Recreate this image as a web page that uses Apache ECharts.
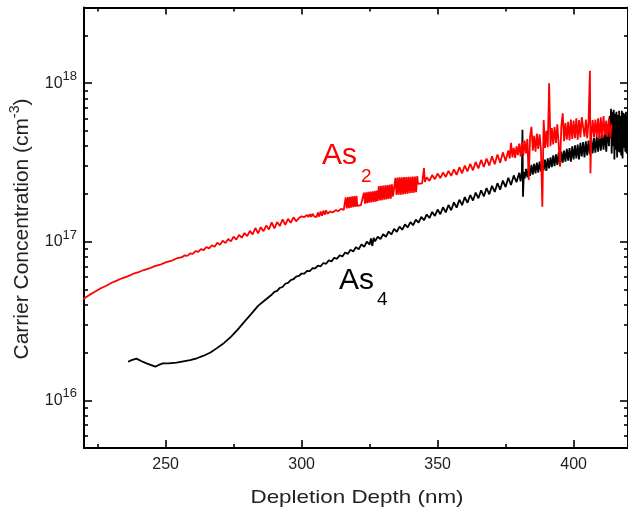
<!DOCTYPE html>
<html><head><meta charset="utf-8">
<script src="https://cdn.jsdelivr.net/npm/echarts@6/dist/echarts.min.js"></script>
<style>html,body{margin:0;padding:0;background:#fff}#c{width:628px;height:513px}</style>
</head><body><div id="c"></div>
<script>
// Concentrations below are in units of 1e16 cm^-3
const UNIT = 1e16;
const xMin = 220, xMax = 420;
const yMin = 5e15, yMax = 3e18;
const xMajorTicks = [250, 300, 350, 400];
const xMinorTicks = [225, 275, 325, 375];
const yMajorTicks = [1e16, 1e17, 1e18];
const yMinorTicks = [6e15, 7e15, 8e15, 9e15, 2e16, 3e16, 4e16, 5e16, 6e16, 7e16, 8e16, 9e16,
  2e17, 3e17, 4e17, 5e17, 6e17, 7e17, 8e17, 9e17, 2e18];

// As2 (red) : [depth nm, concentration / 1e16]
const as2Low = [[218,4.17],[220,4.39],[222,4.62],[224,4.83],[226,5.07],[228,5.26],[230,5.49],[232,5.68],[234,5.88],[236,6.04],[238,6.26],[240,6.42],[242,6.63],[244,6.78],[246,7.01],[248,7.16],[250,7.41],[252,7.56],[254,7.84],[256,7.99]];
const as2Mid = [[257,8.20],[258,8.15],[259,8.45],[260,8.38],[261,8.72],[262,8.62],[263,8.98],[264,8.84],[265,9.26],[266,9.08],[267,9.50],[268,9.30],[269,9.85],[270,9.55],[271,10.15],[272,9.80],[273,10.40],[274,10.05],[275,10.75],[276,10.30],[277,11.05],[278,10.60],[279,11.35],[280,10.85],[281,11.70],[282,11.10],[283,12.20],[284,11.30],[285,12.35],[286,11.65],[287,12.65],[288,11.95],[289,13.25],[290,12.15],[291,13.30],[292,12.55],[293,13.85],[294,12.75],[295,13.95],[296,13.15],[297,14.25],[298,13.45]];
const as2Steps = [[299,14.10],[300,14.45],[301,14.30],[302,14.75],[302.5,14.30],[303,14.95],[303.5,14.35],[304,15.00],[304.5,14.50],[305,14.85],[305.5,14.30],[306,15.30],[306.5,14.40],[307,15.50],[307.5,14.60],[308,15.70],[308.5,14.80],[309,15.80],[309.5,15.00],[310.5,15.50],[311.5,15.30],[312.5,15.80],[313.5,15.60],[314.5,16.10],[315.5,15.90],
[316.2,19.0],[316.6,16.2],[317.0,19.1],[317.4,16.3],[317.8,19.2],[318.2,16.4],[318.6,19.3],[319.0,16.5],[319.4,19.4],[319.8,16.6],[320.2,19.5],[320.5,16.8],[321.0,17.1],[321.8,17.0],[322.5,17.3],
[322.9,20.4],[323.3,17.4],[323.7,20.5],[324.1,17.5],[324.5,20.6],[324.9,17.6],[325.3,20.7],[325.7,17.7],[326.1,20.8],[326.5,17.8],[326.9,20.9],[327.3,17.9],[327.7,21.0],[328.0,18.1],
[328.4,22.4],[328.8,18.2],[329.2,22.5],[329.6,18.3],[330.0,22.6],[330.4,18.4],[330.8,22.7],[331.2,18.5],[331.6,22.8],[332.0,18.6],[332.4,22.9],[332.8,18.7],[333.2,23.0],[333.6,19.3],[334.1,19.6],
[334.5,25.3],[334.9,19.7],[335.3,25.4],[335.7,19.8],[336.1,25.5],[336.5,19.8],[336.9,25.5],[337.3,19.9],[337.7,25.6],[338.1,20.0],[338.5,25.6],[338.9,20.1],[339.3,25.7],[339.7,20.2],[340.1,25.7],[340.5,20.3],[340.9,25.8],[341.3,20.4],[341.7,25.8],[342.1,20.5],[342.5,25.9],[342.8,23.2],[343.5,23.5],[344.3,23.3],[345.0,29.1],[345.3,23.8]];
const as2High = [[346,25.5],[347,24.2],[348,26.3],[349,24.8],[350,26.9],[351,25.2],[352,27.3],[353,25.6],[354,28.0],[355,26.0],[356,28.6],[357,26.4],[358,29.5],[359,27.0],[360,30.2],[361,27.8],[362,31.0],[363,28.2],[364,31.8],[365,29.0],[366,32.8],[367,29.6],[368,33.5],[369,30.2],[370,34.6],[371,30.8],[372,35.5],[373,31.5],[374,36.6],[375,32.3],[376,37.6],
[376.5,33.5],[377,42.0],[377.5,34.0],[378,39.0],[378.5,33.8],[379,40.0],[379.5,35.2],[380,41.5],[380.5,34.5],[381,42.5],[381.5,35.0],[382,43.5],[382.5,36.0],[383,44.5],[383.5,24.5],[384,46.0],[384.5,53.0],[385,37.5],[385.5,46.5],[386,37.0],[386.5,48.0],[387,38.5],[387.5,47.5],[388,38.0],[388.5,16.6],[389,58.5],[389.5,39.0],[390,50.0],[390.5,39.5],[391,100],[391.5,40.0],[392,52.0],[392.5,41.0],[393,53.0],[393.5,42.0],[394,55.0],[394.5,41.5],[395,29.8],[395.5,54.0],[396,64.5],[396.5,43.0],[397,56.0],[397.5,44.0],[398,57.0],[398.5,43.5],[399,59.0],[399.5,44.5],[400,58.0],[400.5,45.0],[401,60.0],[401.5,44.0],[402,58.5],[402.5,45.5],[403,61.0],[403.5,60.5],[404,46.0],[404.5,59.0],[405,45.0],[405.5,58.0],[406,119.7],[406.2,27.0],[406.5,46.5],[407,58.5],[407.5,45.5],[408,59.0],[408.5,46.0],[409,60.0],[409.5,44.5],[410,61.0],[410.5,45.0],[411,62.0],[411.5,47.0],[412,58.0],[412.5,46.0],[413,60.0],[413.5,45.5],[414,55.0]];

// As4 (black)
const as4Low = [[236.2,1.75],[237.5,1.79],[239.3,1.83],[241,1.77],[243,1.71],[245,1.66],[246.2,1.63],[247.5,1.67],[249,1.71],[251,1.71],[254,1.73],[256.5,1.76],[259,1.79],[261.5,1.84],[264,1.91],[266.5,2.00],[269,2.14],[271.5,2.30],[274,2.51],[276.5,2.79],[279,3.13],[281.5,3.51],[284,3.94],[286.5,4.27],[289,4.63],[290,4.83],[291,4.90],[292,5.12],[293,5.18],[294,5.43],[295,5.50],[296,5.72],[297,5.80],[298,6.02],[299,6.08]];
const as4Mid = [[300,6.30],[301,6.30],[302,6.55],[303,6.52],[304,6.80],[305,6.78],[306,7.06],[307,7.00],[308,7.34],[309,7.26],[310,7.62],[311,7.52],[312,7.92],[313,7.80],[314,8.22],[315,8.08],[316,8.55],[317,8.38],[318,8.90],[319,8.68],[320,9.25],[321,8.96],[322,9.62],[323,9.30],[324,10.00],[325,9.60],[325.5,10.5],[326,9.40],[326.5,10.6],[327,10.05],[328,10.75],[329,10.40],[330,11.15],[331,10.75],[332,11.60],[333,11.10],[334,12.05],[335,11.55],[336,12.45],[337,11.90],[338,12.85],[339,12.30],[340,13.30],[341,12.70],[342,13.80],[343,13.20],[344,14.35],[345,13.65],[346,14.85],[347,14.10],[348,15.40],[349,14.55],[350,15.95],[351,14.90],[352,16.50],[353,15.30],[354,17.05],[355,15.80],[356,17.70],[357,16.40],[358,18.40],[359,17.00],[360,19.10],[361,17.60],[362,19.70],[363,18.20],[364,20.40],[365,18.80],[366,21.10],[367,19.30],[368,21.80],[369,19.90],[370,22.50],[371,20.60],[372,23.40],[373,21.30],[374,24.30],[375,22.10],[376,25.30],[377,22.80],[378,26.20],[379,23.70],[380,27.20]];
const as4High = [[380.5,24.0],[381,28.0],[381.2,50.8],[381.4,19.2],[381.7,27.5],[382,25.0],[382.5,28.8],[383,25.5],[383.5,29.5],[384,26.0],[384.5,30.5],[385,26.5],[385.5,31.0],[386,27.0],[386.5,31.5],[387,27.3],[387.5,32.0],[388,27.8],[388.5,32.5],[389,28.2],[389.5,33.0],[390,28.0],[390.5,33.5],[391,29.0],[391.5,34.0],[392,29.5],[392.5,35.0],[393,30.0],[393.5,35.5],[394,30.5],[394.5,36.5],[395,30.0],[395.5,37.0],[396,31.5],[396.5,37.5],[397,32.0],[397.5,38.5],[398,32.5],[398.5,39.0],[399,32.0],[399.5,40.0],[400,33.0],[400.5,40.5],[401,33.5],[401.5,41.0],[402,33.0],[402.5,42.0],[403,34.5],[403.5,42.5],[404,34.0],[404.5,43.0],[405,35.0],[405.5,43.5],[406,35.5],[406.5,44.5],[407,36.0],[407.5,45.0],[408,36.5],[408.5,46.0],[409,37.0],[409.5,47.0],[410,37.5],[410.5,48.0],[411,38.0],[411.5,49.0],[412,37.0],[412.5,52.0],[413,40.0],[413.25,62.0],[413.5,45.0],[413.75,69.0],[414,36.0],[414.25,66.0],[414.5,40.0],[414.75,68.0],[415,33.0],[415.25,64.0],[415.5,38.0],[415.75,66.0],[416,34.0],[416.25,63.0],[416.5,37.0],[416.75,67.0],[417,36.5],[417.25,62.0],[417.5,35.0],[417.75,67.0],[418,33.5],[418.25,65.0],[418.5,39.0],[418.75,64.0],[419,37.0],[419.25,66.0],[419.5,36.0],[419.75,62.0],[420,40.0],[420.5,60.0]];

const toSeries = segs => [].concat(...segs).map(p => [p[0], p[1] * UNIT]);
const as2Data = toSeries([as2Low, as2Mid, as2Steps, as2High]);
const as4Data = toSeries([as4Low, as4Mid, as4High]);

const FONT = '"Liberation Sans", Arial, sans-serif';
const axisLineStyle = { color: '#000', width: 2 };
const tickStyle = { color: '#000', width: 1.6 };

function xAxisDef(pos, ticks, len, showLine, showLabel) {
  return {
    type: 'value', position: pos, min: xMin, max: xMax,
    axisLine: { show: showLine, onZero: false, lineStyle: axisLineStyle },
    axisTick: { show: true, inside: true, length: len, customValues: ticks, lineStyle: tickStyle },
    axisLabel: showLabel ? { show: true, customValues: ticks, margin: 9, fontSize: 16, color: '#222', fontFamily: FONT } : { show: false },
    splitLine: { show: false }
  };
}
function yAxisDef(pos, ticks, len, showLine, showLabel) {
  return {
    type: 'log', logBase: 10, position: pos, min: yMin, max: yMax,
    axisLine: { show: showLine, onZero: false, lineStyle: axisLineStyle },
    axisTick: { show: true, inside: true, length: len, customValues: ticks, lineStyle: tickStyle },
    axisLabel: showLabel ? {
      show: true, customValues: ticks, margin: 7, color: '#222', fontFamily: FONT,
      formatter: v => '{b|10}{s|' + Math.round(Math.log10(v)) + '}',
      rich: {
        b: { fontSize: 16, lineHeight: 26, fontFamily: FONT, color: '#222' },
        s: { fontSize: 13, lineHeight: 13, verticalAlign: 'top', fontFamily: FONT, color: '#222' }
      }
    } : { show: false },
    splitLine: { show: false }
  };
}

const chart = echarts.init(document.getElementById('c'), null, { renderer: 'canvas' });
chart.setOption({
  animation: false,
  backgroundColor: '#fff',
  grid: { left: 84, top: 7.5, width: 546, height: 440.5, containLabel: false },
  xAxis: [
    xAxisDef('bottom', xMajorTicks, 8, true, true),
    xAxisDef('bottom', xMinorTicks, 4, false, false),
    xAxisDef('top', xMajorTicks, 7, true, false),
    xAxisDef('top', xMinorTicks, 4, false, false)
  ],
  yAxis: [
    yAxisDef('left', yMajorTicks, 8, true, true),
    yAxisDef('left', yMinorTicks, 4, false, false),
    yAxisDef('right', yMajorTicks, 8, true, false),
    yAxisDef('right', yMinorTicks, 4, false, false)
  ],
  series: [
    { name: 'As4', type: 'line', data: as4Data, xAxisIndex: 0, yAxisIndex: 0, showSymbol: false, symbol: 'none',
      lineStyle: { color: '#000', width: 1.8 }, itemStyle: { color: '#000' }, clip: true, sampling: null },
    { name: 'As2', type: 'line', data: as2Data, xAxisIndex: 0, yAxisIndex: 0, showSymbol: false, symbol: 'none',
      lineStyle: { color: '#ff0000', width: 1.8 }, itemStyle: { color: '#ff0000' }, clip: true, sampling: null }
  ],
  graphic: [
    { type: 'text', x: 357, y: 498, scaleX: 1.18, style: { text: 'Depletion Depth (nm)', fontSize: 19, fontFamily: FONT, fill: '#222', align: 'center', verticalAlign: 'middle' } },
    { type: 'text', x: 22, y: 229, rotation: Math.PI / 2, style: {
        text: '{b|Carrier Concentration (cm}{s|-3}{b|)}', align: 'center', verticalAlign: 'middle', fill: '#222', fontFamily: FONT,
        rich: { b: { fontSize: 21, lineHeight: 28, fontFamily: FONT, fill: '#222' }, s: { fontSize: 14, lineHeight: 14, verticalAlign: 'top', fontFamily: FONT, fill: '#222' } } } },
    { type: 'text', x: 322, y: 141, style: { text: 'As', fontSize: 30, fontFamily: FONT, fill: '#ff0000', align: 'left', verticalAlign: 'top' } },
    { type: 'text', x: 361, y: 167, style: { text: '2', fontSize: 19, fontFamily: FONT, fill: '#ff0000', align: 'left', verticalAlign: 'top' } },
    { type: 'text', x: 339, y: 266, style: { text: 'As', fontSize: 30, fontFamily: FONT, fill: '#000', align: 'left', verticalAlign: 'top' } },
    { type: 'text', x: 377, y: 290, style: { text: '4', fontSize: 19, fontFamily: FONT, fill: '#000', align: 'left', verticalAlign: 'top' } }
  ]
});
</script></body></html>
